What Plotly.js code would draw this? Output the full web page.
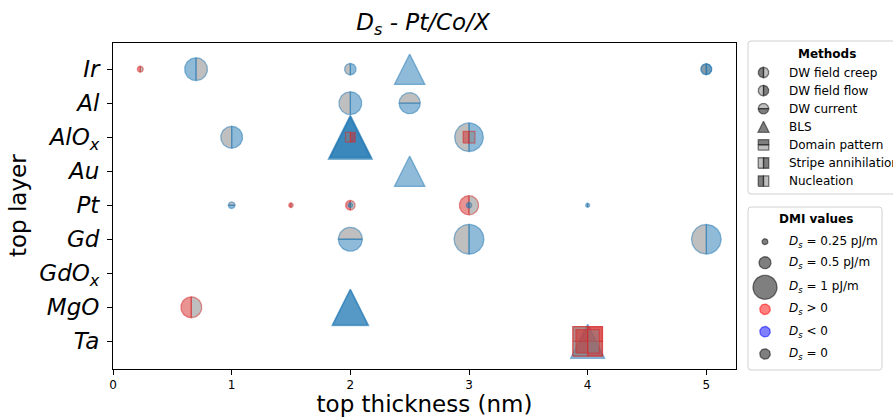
<!DOCTYPE html>
<html><head><meta charset="utf-8">
<script src="https://cdn.plot.ly/plotly-3.0.1.min.js"></script>
<style>html,body{margin:0;padding:0;background:#fff}</style>
</head><body><div id="chart" style="width:893px;height:417px"></div>
<script>
// ---------------- DATA ----------------
const layers = ['Ta','MgO','GdOx','Gd','Pt','Au','AlOx','Al','Ir']; // bottom -> top
const layerLabels = ['<i>Ta</i>','<i>MgO</i>','<i>GdO<sub>x</sub></i>','<i>Gd</i>','<i>Pt</i>','<i>Au</i>','<i>AlO<sub>x</sub></i>','<i>Al</i>','<i>Ir</i>'];
const xTicks = [0,1,2,3,4,5];
const methods = ['DW field creep','DW field flow','DW current','BLS','Domain pattern','Stripe annihilation','Nucleation'];

const ptLayer = ['Ir','Ir','Ir','Ir','Ir','Ir','Al','Al','AlOx','AlOx','AlOx','AlOx','AlOx','AlOx','AlOx','Au',
                 'Pt','Pt','Pt','Pt','Pt','Pt','Pt','Gd','Gd','Gd','MgO','MgO','MgO','Ta','Ta','Ta','Ta'];
const ptThickness = [0.23,0.70,2.0,2.5,5.0,5.0,2.0,2.5,1.0,2.0,2.0,2.0,2.0,3.0,3.0,2.5,
                     1.0,1.5,2.0,2.0,3.0,3.0,4.0,2.0,3.0,5.0,0.66,2.0,2.0,4.0,4.0,4.0,4.0];
const ptDs = [0.25,-0.95,-0.48,-1.27,-0.45,-0.45,-0.95,-0.88,-0.91,-1.84,-1.75,-1.66,0.40,-1.19,0.49,-1.27,
              -0.28,0.19,0.40,-0.19,0.80,-0.23,-0.17,-1.0,-1.24,-1.23,0.87,-1.53,-1.45,-1.42,1.23,1.23,0.98];
const ptMethod = ['DW field creep','DW field creep','DW field flow','BLS','DW field creep','DW field flow',
                  'DW field flow','DW current','DW field flow','BLS','BLS','BLS','Stripe annihilation','DW field flow','Nucleation','BLS',
                  'DW current','DW field creep','DW field creep','DW field creep','DW field creep','DW field creep','DW field creep',
                  'DW current','DW field flow','DW field flow','DW field creep','BLS','BLS',
                  'BLS','Domain pattern','Stripe annihilation','Nucleation'];

const dmiLegendValues = [0.25, 0.5, 1];
const dmiLegendLabels = ['<i>D<sub>s</sub></i> = 0.25 pJ/m','<i>D<sub>s</sub></i> = 0.5 pJ/m','<i>D<sub>s</sub></i> = 1 pJ/m',
                         '<i>D<sub>s</sub></i> &gt; 0','<i>D<sub>s</sub></i> &lt; 0','<i>D<sub>s</sub></i> = 0'];

// ---------------- STYLE ----------------
const methodStyle = {
  'DW field creep':      {shape:'circle',   half:'left'},
  'DW field flow':       {shape:'circle',   half:'right'},
  'DW current':          {shape:'circle',   half:'bottom'},
  'BLS':                 {shape:'triangle', half:'full'},
  'Domain pattern':      {shape:'square',   half:'top'},
  'Stripe annihilation': {shape:'square',   half:'right'},
  'Nucleation':          {shape:'square',   half:'left'}
};
const POS = 'rgba(214,39,40,0.5)', NEG = 'rgba(31,119,180,0.5)', ALT = 'rgba(128,128,128,0.5)';
const W = 893, H = 417;
const plotL = 113, plotR = 736, plotT = 43, plotB = 368.5;
const xRange = [0, 5.25], yRange = [-0.8, 8.77];
const sx = (plotR - plotL) / (xRange[1] - xRange[0]);
const sy = (plotB - plotT) / (yRange[1] - yRange[0]);
const PX_PER_DS = 24, EDGE = 1.3;
const FONT = 'DejaVu Sans';

function shapeParts(shape, half, size) {
  const r = size / 2;
  if (shape === 'circle') {
    const arc = (a0, a1) => { const p = []; const n = 40;
      for (let i = 0; i <= n; i++) { const a = (a0 + (a1 - a0) * i / n) * Math.PI / 180; p.push([r * Math.cos(a), r * Math.sin(a)]); }
      return p; };
    if (half === 'full') return {main: arc(0, 360), alt: null};
    const rg = {left:[90,270], right:[-90,90], top:[0,180], bottom:[180,360]}[half];
    return {main: arc(rg[0], rg[1]), alt: arc(rg[1], rg[0] + 360)};
  }
  if (shape === 'triangle') return {main: [[0, r], [-r, -r], [r, -r]], alt: null};
  const sq = {left:[[-r,-r],[0,-r],[0,r],[-r,r]], right:[[0,-r],[r,-r],[r,r],[0,r]],
              top:[[-r,0],[r,0],[r,r],[-r,r]], bottom:[[-r,-r],[r,-r],[r,0],[-r,0]],
              full:[[-r,-r],[r,-r],[r,r],[-r,r]]};
  const opp = {left:'right', right:'left', top:'bottom', bottom:'top'};
  return {main: sq[half], alt: half === 'full' ? null : sq[opp[half]]};
}
function poly(cx, cy, pts, kx, ky, fill, edge, xa, ya) {
  const x = pts.map(p => cx + p[0] / kx), y = pts.map(p => cy + p[1] / ky);
  x.push(x[0]); y.push(y[0]);
  return {type:'scatter', mode:'lines', x, y, fill:'toself', fillcolor:fill,
          line:{color:edge, width:EDGE}, hoverinfo:'skip', showlegend:false, xaxis:xa, yaxis:ya};
}
function marker(traces, cx, cy, shape, half, size, col, alt, kx, ky, xa, ya) {
  const parts = shapeParts(shape, half, size);
  traces.push(poly(cx, cy, parts.main, kx, ky, col, col, xa, ya));
  if (parts.alt) traces.push(poly(cx, cy, parts.alt, kx, ky, alt, col, xa, ya));
}

const traces = [];
traces.push({type:'scatter', mode:'markers', x:[], y:[], showlegend:false, xaxis:'x', yaxis:'y'});
for (let i = 0; i < ptDs.length; i++) {
  const st = methodStyle[ptMethod[i]];
  const col = ptDs[i] > 0 ? POS : (ptDs[i] < 0 ? NEG : ALT);
  marker(traces, ptThickness[i], layers.indexOf(ptLayer[i]), st.shape, st.half,
         Math.abs(ptDs[i]) * PX_PER_DS, col, ALT, sx, sy, 'x', 'y');
}

// ---------------- LEGENDS (drawn on a pixel-unit helper axis) ----------------
const annotations = [];
const shapes = [];
function roundRect(x0, y0, x1, y1, rad) {
  const X = v => v / W, Y = v => 1 - v / H;
  return `M${X(x0+rad)},${Y(y0)} L${X(x1-rad)},${Y(y0)} Q${X(x1)},${Y(y0)} ${X(x1)},${Y(y0+rad)} ` +
         `L${X(x1)},${Y(y1-rad)} Q${X(x1)},${Y(y1)} ${X(x1-rad)},${Y(y1)} L${X(x0+rad)},${Y(y1)} ` +
         `Q${X(x0)},${Y(y1)} ${X(x0)},${Y(y1-rad)} L${X(x0)},${Y(y0+rad)} Q${X(x0)},${Y(y0)} ${X(x0+rad)},${Y(y0)} Z`;
}
shapes.push({type:'path', xref:'paper', yref:'paper', path:roundRect(748, 41, 905, 194, 3), line:{color:'#d0d0d0', width:1}, fillcolor:'rgba(255,255,255,0.8)', layer:'below'});
shapes.push({type:'path', xref:'paper', yref:'paper', path:roundRect(748, 207, 882, 370, 3), line:{color:'#d0d0d0', width:1}, fillcolor:'rgba(255,255,255,0.8)', layer:'below'});

const LG_MAIN = 'rgba(0,0,0,0.5)';
const textAnn = (px, py, txt, extra) => Object.assign({xref:'paper', yref:'paper', x:px / W, y:1 - py / H,
   text:txt, showarrow:false, xanchor:'left', yanchor:'middle', font:{family:FONT, size:12, color:'#000'}}, extra || {});

annotations.push(textAnn(827, 54, '<b>Methods</b>', {xanchor:'center'}));
methods.forEach((m, k) => {
  const cy = 72.5 + k * 18.1;
  const st = methodStyle[m];
  marker(traces, 763.5, cy, st.shape, st.half, st.shape === 'triangle' ? 11 : 10.5, LG_MAIN, ALT, 1, -1, 'x2', 'y2');
  annotations.push(textAnn(786.5, cy, m));
});

annotations.push(textAnn(815.5, 219, '<b>DMI values</b>', {xanchor:'center'}));
const dmiRows = [241.7, 262.7, 287.3, 309.3, 331.7, 354];
const dmiCols = [LG_MAIN, LG_MAIN, LG_MAIN, 'rgba(255,0,0,0.5)', 'rgba(0,0,255,0.5)', LG_MAIN];
dmiLegendLabels.forEach((lab, k) => {
  const size = k < 3 ? dmiLegendValues[k] * PX_PER_DS : 10.5;
  marker(traces, 765, dmiRows[k], 'circle', 'full', size, dmiCols[k], ALT, 1, -1, 'x2', 'y2');
  annotations.push(textAnn(786.5, dmiRows[k], lab));
});

const axBase = {showgrid:false, zeroline:false, color:'#000', linecolor:'#000', linewidth:1,
                ticks:'outside', ticklen:5, tickwidth:1, tickcolor:'#000', showline:true, mirror:true, fixedrange:true};
const layout = {
  width:W, height:H, margin:{l:0, r:0, t:0, b:0},
  paper_bgcolor:'#fff', plot_bgcolor:'rgba(0,0,0,0)',
  font:{family:FONT, color:'#000'},
  showlegend:false,
  title:{text:'<i>D<sub>s</sub> - Pt/Co/X</i>', font:{family:FONT, size:23, color:'#000'},
         x:423 / W, xref:'paper', xanchor:'center', y:1 - 22 / H, yref:'container', yanchor:'middle'},
  xaxis: Object.assign({}, axBase, {domain:[plotL / W, plotR / W], range:xRange, tickvals:xTicks,
          tickfont:{family:FONT, size:12}, anchor:'y',
          title:{text:'top thickness (nm)', font:{family:FONT, size:23}, standoff:3}}),
  yaxis: Object.assign({}, axBase, {domain:[1 - plotB / H, 1 - plotT / H], range:yRange,
          tickvals:layers.map((_, i) => i), ticktext:layerLabels, tickfont:{family:FONT, size:23}, anchor:'x',
          ticklabelstandoff:3,
          title:{text:'top layer', font:{family:FONT, size:23}, standoff:6}}),
  xaxis2:{domain:[740 / W, 1], range:[740, W], visible:false, fixedrange:true, anchor:'y2'},
  yaxis2:{domain:[0, 1], range:[H, 0], visible:false, fixedrange:true, anchor:'x2'},
  shapes, annotations
};
Plotly.newPlot('chart', traces, layout, {displayModeBar:false, staticPlot:true});
</script></body></html>
